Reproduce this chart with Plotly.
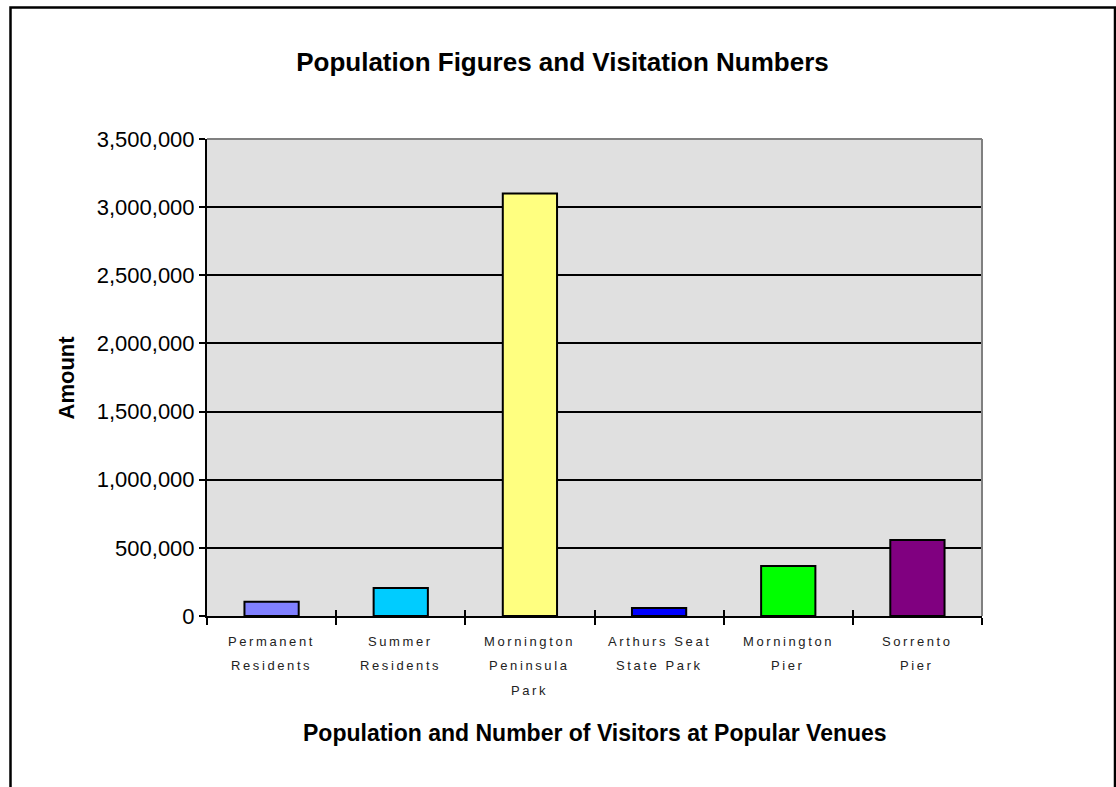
import plotly.graph_objects as go

categories = ["Permanent Residents", "Summer Residents", "Mornington Peninsula Park",
              "Arthurs Seat State Park", "Mornington Pier", "Sorrento Pier"]
label_lines = [["Permanent", "Residents"], ["Summer", "Residents"],
               ["Mornington", "Peninsula", "Park"], ["Arthurs Seat", "State Park"],
               ["Mornington", "Pier"], ["Sorrento", "Pier"]]
amounts = [105000, 205000, 3100000, 59000, 367000, 558000]
bar_colors = ["#8080FF", "#00CCFF", "#FFFF80", "#0000FF", "#00FF00", "#800080"]
y_ticks = [0, 500000, 1000000, 1500000, 2000000, 2500000, 3000000, 3500000]

title_text = "Population Figures and Visitation Numbers"
x_title = "Population and Number of Visitors at Popular Venues"
y_title = "Amount"

FONT = "Arial, 'Liberation Sans', sans-serif"

W, H = 1116, 787
L, R, T, B = 207, 134, 139, 171
pw, ph = W - L - R, H - T - B

def px_to_paper_x(px):
    return (px - L) / pw

def px_to_paper_y(py):
    return (H - B - py) / ph

fig = go.Figure()
fig.add_trace(go.Bar(
    x=categories, y=amounts,
    marker=dict(color=bar_colors, line=dict(color="black", width=2)),
    width=0.42,
))
# invisible copy on an overlaid axis so the category ticks can cross the axis line
fig.add_trace(go.Bar(
    x=categories, y=amounts, xaxis="x2", opacity=0, width=0.42,
    hoverinfo="skip", showlegend=False,
))

annotations = []
for cat, lines in zip(categories, label_lines):
    for j, line in enumerate(lines):
        annotations.append(dict(
            x=cat, y=0, xref="x", yref="paper",
            text='<span style="letter-spacing:2.6px">' + line + '</span>',
            showarrow=False, xanchor="center", yanchor="middle",
            yshift=-(25 + 24.5 * j),
            font=dict(family=FONT, size=13, color="#222222"),
        ))

annotations.append(dict(
    x=0.5, y=px_to_paper_y(733), xref="paper", yref="paper",
    text="<b>" + x_title + "</b>", showarrow=False,
    xanchor="center", yanchor="middle",
    font=dict(family=FONT, size=23, color="black"),
))
annotations.append(dict(
    x=px_to_paper_x(66), y=0.5, xref="paper", yref="paper",
    text="<b>" + y_title + "</b>", showarrow=False, textangle=-90,
    xanchor="center", yanchor="middle",
    font=dict(family=FONT, size=22, color="black"),
))

shapes = [
    dict(type="rect", xref="paper", yref="paper",
         x0=px_to_paper_x(10.5), x1=px_to_paper_x(1115), y0=px_to_paper_y(800), y1=px_to_paper_y(7.5),
         line=dict(color="black", width=2.5), fillcolor="rgba(0,0,0,0)", layer="below"),
    dict(type="line", xref="paper", yref="paper", x0=0, x1=1, y0=1, y1=1,
         line=dict(color="#808080", width=2)),
    dict(type="line", xref="paper", yref="paper", x0=1, x1=1, y0=0, y1=1,
         line=dict(color="#808080", width=2)),
]

fig.update_layout(
    width=W, height=H,
    margin=dict(l=L, r=R, t=T, b=B, pad=0),
    paper_bgcolor="white",
    plot_bgcolor="#E0E0E0",
    showlegend=False,
    title=dict(text="<b>" + title_text + "</b>", x=562.5 / W, y=1 - 62 / H,
               xref="container", yref="container", xanchor="center", yanchor="middle",
               font=dict(family=FONT, size=26, color="black")),
    annotations=annotations,
    shapes=shapes,
    xaxis=dict(type="category", showticklabels=False, ticks="outside", tickson="boundaries",
               ticklen=7, tickwidth=2, tickcolor="black", showline=True, linecolor="black",
               linewidth=2, showgrid=False, zeroline=False, fixedrange=True),
    xaxis2=dict(type="category", overlaying="x", matches="x", side="bottom", anchor="y",
                showticklabels=False, ticks="inside", tickson="boundaries",
                ticklen=6, tickwidth=2, tickcolor="black", showline=False,
                showgrid=False, zeroline=False, fixedrange=True),
    yaxis=dict(range=[0, 3500000], tickvals=y_ticks, tickformat=",", ticks="outside",
               ticklen=6, tickwidth=2, tickcolor="black", showline=True, linecolor="black",
               linewidth=2, showgrid=True, gridcolor="black", gridwidth=1.5, zeroline=False,
               tickfont=dict(family=FONT, size=22, color="black"), fixedrange=True),
)

fig.write_html("out.html")
